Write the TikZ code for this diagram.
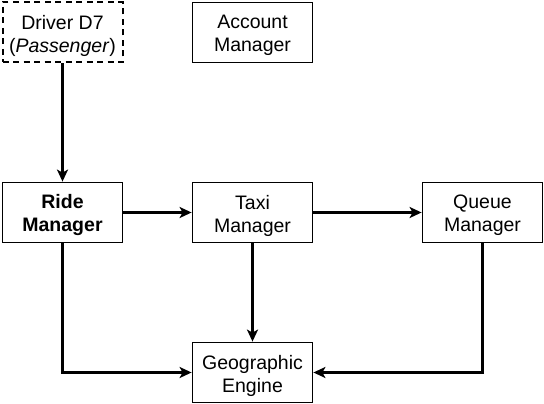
\documentclass[tikz,border=0pt]{standalone}
\usepackage{fontspec}
\setmainfont{Liberation Sans}
\usetikzlibrary{arrows.meta}
\begin{document}
\begin{tikzpicture}[x=1pt,y=-1pt,
  box/.style={draw, line width=1.8pt, minimum width=120pt, minimum height=60pt,
    inner sep=0pt},
  lbl/.style={align=center, inner sep=0pt, yshift=-3pt, font=\fontsize{19.5}{23}\selectfont},
  conn/.style={line width=2.2pt, -{Stealth[length=12pt,width=11pt,inset=3pt]}}]
\useasboundingbox (0,0) rectangle (544,404);
\node[box, line width=2pt, dashed, dash pattern=on 6pt off 4.5pt, label={[lbl]center:{Driver D7\\(\textit{Passenger})}}] (driver) at (62.5,32.5) {};
\node[box, label={[lbl]center:{Account\\Manager}}] (account) at (252.5,32.5) {};
\node[box, label={[lbl]center:{\textbf{Ride}\\\textbf{Manager}}}] (ride) at (62.5,212.5) {};
\node[box, label={[lbl]center:{Taxi\\Manager}}] (taxi) at (252.5,212.5) {};
\node[box, label={[lbl]center:{Queue\\Manager}}] (queue) at (482.5,212.5) {};
\node[box, label={[lbl]center:{Geographic\\Engine}}] (geo) at (252.5,372.5) {};
\draw[conn] (driver) -- (ride);
\draw[conn] (ride) -- (taxi);
\draw[conn] (taxi) -- (queue);
\draw[conn] (taxi) -- (geo);
\draw[conn] (ride.south) |- (geo.west);
\draw[conn] (queue.south) |- (geo.east);
\end{tikzpicture}
\end{document}
